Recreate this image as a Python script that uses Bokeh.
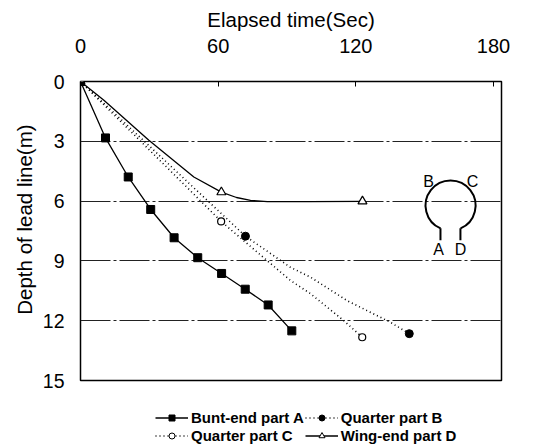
from bokeh.plotting import figure
from bokeh.layouts import column
from bokeh.models import Range1d, FixedTicker, Legend, LegendItem
from bokeh.core.properties import value
from bokeh.embed import file_html
from bokeh.resources import INLINE

FONT = "Liberation Sans"

# ---- axis ticks ----
tick_x = [0, 60, 120, 180]
tick_y = [0, 3, 6, 9, 12, 15]
grid_y = [3, 6, 9, 12]

# ---- Bunt-end part A ----
a_time = [0, 10.9, 20.8, 30.6, 40.8, 51.1, 61.5, 71.8, 81.8, 92.1]
a_depth = [0, 2.83, 4.79, 6.42, 7.84, 8.84, 9.63, 10.42, 11.21, 12.51]

# ---- Quarter part B ----
b_time = [0, 71.9, 143.3]
b_depth = [0, 7.76, 12.65]
b_curve_time = [0, 13.1, 30.5, 46.5, 71.9, 91.5, 100.3, 116.3, 135.1, 143.3]
b_curve_depth = [0, 1.41, 3.29, 5.02, 7.76, 9.32, 9.82, 11.0, 12.08, 12.65]

# ---- Quarter part C ----
c_time = [0, 61.3, 122.8]
c_depth = [0, 7.02, 12.83]
c_curve_time = [0, 13.1, 30.5, 46.5, 61.3, 91.5, 100.3, 114.8, 122.8]
c_curve_depth = [0, 1.5, 3.49, 5.32, 7.02, 9.98, 10.65, 12.0, 12.83]

# ---- Wing-end part D ----
d_time = [0, 61.4, 122.9]
d_depth = [0, 5.55, 6.01]
d_curve_time = [0, 10.2, 29.8, 49.4, 61.4, 68.0, 74.1, 81.4, 100.0, 122.9]
d_curve_depth = [0, 0.94, 2.95, 4.79, 5.55, 5.82, 5.96, 6.03, 6.03, 6.01]

labels = ["Bunt-end part A", "Quarter part B", "Quarter part C", "Wing-end part D"]

# ---- net-ring schematic (annotation) ----
ring_center = (161.3, 6.22)
ring_labels = ["B", "C", "A", "D"]
ring_label_x = [151.7, 170.9, 156.1, 165.6]
ring_label_y = [5.0, 5.0, 8.43, 8.43]
leg_x = [156.9, 165.6]
leg_y0 = [7.36, 7.36]
leg_y1 = [7.97, 7.97]

p = figure(width=534, height=392,
           x_range=Range1d(0, 183.5), y_range=Range1d(15, 0),
           x_axis_location="above",
           output_backend="svg", toolbar_location=None,
           min_border_left=80, min_border_right=33,
           min_border_top=81, min_border_bottom=12)

p.background_fill_color = "white"
p.border_fill_color = "white"
p.outline_line_color = "black"
p.outline_line_width = 1.5
p.outline_line_alpha = 1.0

# x axis (top)
xa = p.xaxis[0]
xa.ticker = FixedTicker(ticks=tick_x)
xa.axis_label = "Elapsed time(Sec)"
xa.axis_label_text_font = FONT
xa.axis_label_text_font_size = "20.5px"
xa.axis_label_text_font_style = "normal"
xa.axis_label_text_color = "black"
xa.axis_label_standoff = 5
xa.major_label_text_font = FONT
xa.major_label_text_font_size = "20px"
xa.major_label_text_color = "black"
xa.major_label_standoff = 29
xa.major_tick_in = 5
xa.major_tick_out = 0
xa.major_tick_line_color = "black"
xa.minor_tick_line_color = None
xa.axis_line_color = None

# y axis (left)
ya = p.yaxis[0]
ya.ticker = FixedTicker(ticks=tick_y)
ya.axis_label = "\u00a0" * 4 + "Depth of lead line(m)"
ya.axis_label_text_font = FONT
ya.axis_label_text_font_size = "20.5px"
ya.axis_label_text_font_style = "normal"
ya.axis_label_text_color = "black"
ya.axis_label_standoff = 4
ya.major_label_text_font = FONT
ya.major_label_text_font_size = "19.5px"
ya.major_label_text_color = "black"
ya.major_label_standoff = 16
ya.major_tick_in = 0
ya.major_tick_out = 0
ya.major_tick_line_color = None
ya.minor_tick_line_color = None
ya.axis_line_color = None

p.xgrid.visible = False
p.ygrid.ticker = FixedTicker(ticks=grid_y)
p.ygrid.grid_line_color = "#222222"
p.ygrid.grid_line_width = 1
p.ygrid.grid_line_dash = "30 3 3 3"

# series styles
A_LINE = dict(line_color="black", line_width=1.3)
A_MARK = dict(marker="square", size=8, fill_color="black", line_color="black")
B_LINE = dict(line_color="black", line_width=1.6, line_dash="1 3")
B_MARK = dict(marker="circle", size=8, fill_color="black", line_color="black")
C_LINE = dict(line_color="black", line_width=1.6, line_dash="1 3")
C_MARK = dict(marker="circle", size=7, fill_color="white", line_color="black", line_width=1.2)
D_LINE = dict(line_color="black", line_width=1.3)
D_MARK = dict(marker="triangle", size=9, fill_color="white", line_color="black", line_width=1.2)

p.line(a_time, a_depth, **A_LINE)
p.scatter(a_time, a_depth, **A_MARK)
p.line(b_curve_time, b_curve_depth, **B_LINE)
p.scatter(b_time, b_depth, **B_MARK)
p.line(c_curve_time, c_curve_depth, **C_LINE)
p.scatter(c_time, c_depth, **C_MARK)
p.line(d_curve_time, d_curve_depth, **D_LINE)
p.scatter(d_time, d_depth, **D_MARK)
# origin marker on top
p.scatter(a_time[:1], a_depth[:1], **A_MARK)

# ring schematic
p.arc(x=[ring_center[0]], y=[ring_center[1]], radius=25, radius_units="screen",
      start_angle=-66.4, end_angle=246.4,
      start_angle_units="deg", end_angle_units="deg",
      direction="anticlock", line_color="black", line_width=2)
p.segment(x0=leg_x, y0=leg_y0, x1=leg_x, y1=leg_y1,
          line_color="black", line_width=2)
p.text(x=ring_label_x, y=ring_label_y, text=ring_labels,
       text_font=value(FONT), text_font_size="16px",
       text_align="center", text_baseline="middle", text_color="black")

# ---- legend strip below the chart (series drawn off-range, only keys show) ----
q = figure(width=534, height=52, output_backend="svg", toolbar_location=None,
           x_range=Range1d(1000, 1001), y_range=Range1d(1000, 1001),
           min_border=0, x_axis_type=None, y_axis_type=None)
q.outline_line_color = None
q.grid.visible = False
q.background_fill_color = "white"
q.border_fill_color = "white"
la = [q.line(a_time, a_depth, **A_LINE),
      q.scatter(a_time, a_depth, **dict(A_MARK, size=6))]
lb = [q.line(b_curve_time, b_curve_depth, **B_LINE),
      q.scatter(b_time, b_depth, **dict(B_MARK, size=6))]
lc = [q.line(c_curve_time, c_curve_depth, **C_LINE),
      q.scatter(c_time, c_depth, **dict(C_MARK, size=5.5, line_width=1))]
ld = [q.line(d_curve_time, d_curve_depth, **D_LINE),
      q.scatter(d_time, d_depth, **dict(D_MARK, size=7, line_width=1))]

# column-major fill: A, C in first column; B, D in second
legend = Legend(items=[
    LegendItem(label=labels[0], renderers=la),
    LegendItem(label=labels[2], renderers=lc),
    LegendItem(label=labels[1], renderers=lb),
    LegendItem(label=labels[3], renderers=ld),
], ncols=2, location=(75, 0))
legend.label_text_font = FONT
legend.label_text_font_size = "15px"
legend.label_text_font_style = "bold"
legend.label_text_color = "black"
legend.glyph_width = 33
legend.glyph_height = 15
legend.label_height = 15
legend.label_standoff = 3
legend.spacing = 1
legend.padding = 0
legend.margin = 0
legend.border_line_color = None
legend.background_fill_alpha = 0
q.add_layout(legend)

page = column(p, q, spacing=0)
open("out.html", "w").write(file_html(page, INLINE))
